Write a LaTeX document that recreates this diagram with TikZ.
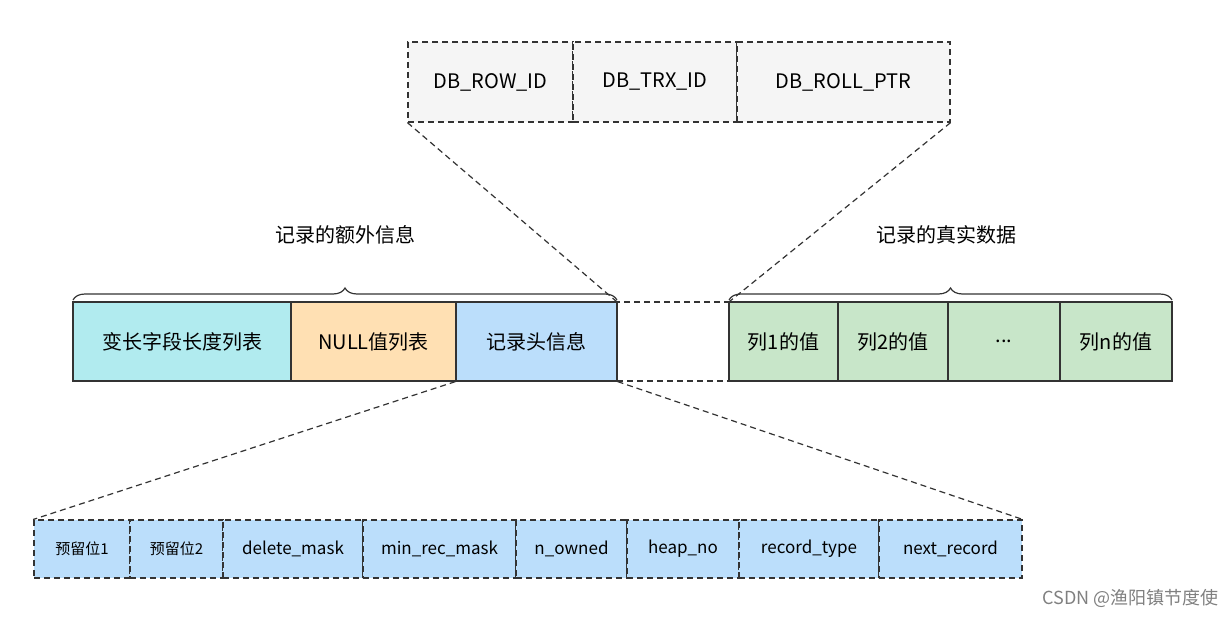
\documentclass[tikz,border=0pt]{standalone}
\usepackage{fontspec}
\setmainfont{Noto Sans CJK SC}
\usetikzlibrary{decorations.pathreplacing}
\definecolor{cy}{HTML}{B1EBEF}
\definecolor{orf}{HTML}{FFE0B3}
\definecolor{bl}{HTML}{BBDEFB}
\definecolor{gr}{HTML}{C8E6C9}
\definecolor{gy}{HTML}{F5F5F5}
\definecolor{ln}{HTML}{333333}
\begin{document}
\begin{tikzpicture}[x=1pt,y=-1pt,
 box/.style={draw=ln,line width=1.2pt,inner sep=0,font=\fontsize{20}{20}\selectfont},
 dbox/.style={box,dash pattern=on 6pt off 4pt},
 dl/.style={draw=ln,line width=1.2pt,dash pattern=on 6pt off 4pt},
 sb/.style={dbox,fill=bl,font=\fontsize{17}{17}\selectfont},
 br/.style={draw=ln,line width=1.2pt,decorate,decoration={brace,amplitude=12pt}}]
\useasboundingbox (0,0) rectangle (1226,616);
% top
\foreach \a/\b/\t/\n in {408/573/DB\_ROW\_ID/t1,573/737/DB\_TRX\_ID/t2,737/950/DB\_ROLL\_PTR/t3}
 \node[dbox,fill=gy,minimum width=\b-\a,minimum height=80] (\n) at ({(\a+\b)/2},82) {\t};
% main row
\node[box,fill=cy,minimum width=218,minimum height=79] (m1) at (182,341.5) {变长字段长度列表};
\node[box,fill=orf,minimum width=165,minimum height=79] (m2) at (373.5,341.5) {NULL值列表};
\node[box,fill=bl,minimum width=161,minimum height=79] (m3) at (536.5,341.5) {记录头信息};
\node[dbox,minimum width=112,minimum height=79] (m4) at (673,341.5) {};
\foreach \a/\b/\t/\n in {729/838/列1的值/g1,838/948/列2的值/g2,948/1060/{...}/g3,1060/1172/列n的值/g4}
 \node[box,fill=gr,minimum width=\b-\a,minimum height=79] (\n) at ({(\a+\b)/2},341.5) {\t};
% braces
\draw[br] (73,300) -- (617,300) coordinate[midway] (bl);
\draw[br] (729,300) -- (1172,300) coordinate[midway] (brr);
\node[font=\fontsize{20}{20}\selectfont] (l1) at (345,235) {记录的额外信息};
\node[font=\fontsize{20}{20}\selectfont] (l2) at (946,235) {记录的真实数据};
% top connectors
\draw[dl] (t1.south west) -- (m4.north west);
\draw[dl] (t3.south east) -- (m4.north east);
% bottom
\foreach \a/\b/\t/\n/\f in {34/130/预留位1/b1/15,130/223/预留位2/b2/15,223/363/delete\_mask/b3/17,363/516/min\_rec\_mask/b4/17,516/627/n\_owned/b5/17,627/739/heap\_no/b6/17,739/879/record\_type/b7/17,879/1022/next\_record/b8/17}
 \node[sb,minimum width=\b-\a,minimum height=58,font=\fontsize{\f}{\f}\selectfont] (\n) at ({(\a+\b)/2},549) {\t};
\draw[dl] (m3.south west) -- (b1.north west);
\draw[dl] (m3.south east) -- (b8.north east);
\node[font=\fontsize{18}{18}\selectfont,text=gray,anchor=east] (wm) at (1222,598) {CSDN @渔阳镇节度使};
\end{tikzpicture}
\end{document}
